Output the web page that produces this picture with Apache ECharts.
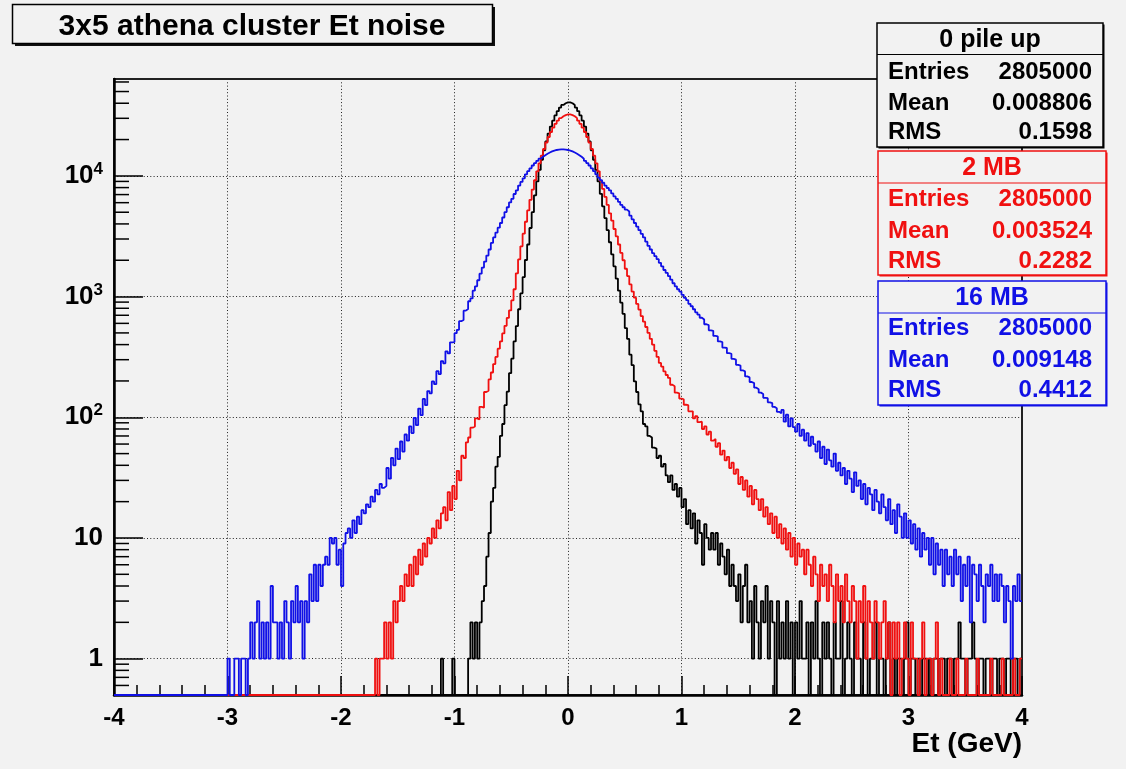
<!DOCTYPE html>
<html>
<head>
<meta charset="utf-8">
<script src="https://cdn.jsdelivr.net/npm/echarts@6.0.0/dist/echarts.min.js"></script>
<style>
  html, body { margin: 0; padding: 0; background: #f2f2f2; }
  #chart { width: 1126px; height: 769px; }
</style>
</head>
<body>
<div id="chart"></div>
<script>
// Histogram binning (GeV)
const X_MIN = -4;
const X_MAX = 4;
const BIN_WIDTH = 0.02;
const Y_MIN = 0.5;
const Y_MAX = 63500;

const X_TICKS = [-4, -3, -2, -1, 0, 1, 2, 3, 4];
const X_TICK_LABELS = ['-4', '-3', '-2', '-1', '0', '1', '2', '3', '4'];
const Y_TICK_EXP = [0, 1, 2, 3, 4];
const Y_TICK_LABELS = ['1', '10', '10^2', '10^3', '10^4'];

const TITLE = '3x5 athena cluster Et noise';
const X_TITLE = 'Et (GeV)';

const HIST_NAMES = ['0 pile up', '2 MB', '16 MB'];
const HIST_ENTRIES = ['2805000', '2805000', '2805000'];
const HIST_MEANS = ['0.008806', '0.003524', '0.009148'];
const HIST_RMS = ['0.1598', '0.2282', '0.4412'];

// 0 pile up: counts per bin, first bin low edge at -1.12
const BLACK_FIRST_EDGE = -1.12;
const BLACK_COUNTS = [
  1,0,0,0,0,1,0,0,0,0,
  0,0,1,2,1,2,1,2,3,4,
  7,11,20,26,39,47,70,88,126,163,
  232,306,425,570,785,1065,1450,2010,2700,3700,
  5000,6900,9000,11200,13600,16300,19300,22400,25600,28700,
  31700,34400,36800,38700,40000,40700,40700,40000,38700,36800,
  34400,31700,28700,25600,22400,19300,16300,13600,11200,9000,
  7100,5600,4470,3550,2820,2240,1780,1410,1120,890,
  720,548,446,330,270,198,162,128,112,88,
  84,70,68,56,55,46,48,39,41,33,
  29,33,25,28,22,26,18,21,13,17,
  12,16,9,14,11,6,13,10,8,11,
  8,11,6,9,7,5,8,4,6,4,
  3,5,2,4,6,2,3,1,4,2,
  1,3,2,4,1,3,2,0,3,1,
  2,1,3,1,2,0,2,1,3,1,
  1,2,0,2,1,3,1,0,2,1,
  2,1,0,2,1,1,3,0,1,2,
  1,0,2,1,1,0,2,1,0,1,
  1,2,0,1,1,0,1,2,0,1,
  0,1,1,0,1,2,0,1,1,0,
  1,0,1,1,0,1,0,1,1,0,
  1,1,0,1,1,0,1,1,2,1,
  1,0,1,1,2,1,0,1,1,0,
  1,1,0,1,1,0,1,1,0,1,
  1,0,1,1,0,1
];

// 2 MB: first bin low edge at -1.70
const RED_FIRST_EDGE = -1.70;
const RED_COUNTS = [
  1,0,1,1,2,1,2,1,3,2,
  3,4,3,5,4,6,4,7,5,8,
  6,9,7,10,9,12,10,14,12,16,
  18,14,24,17,27,21,36,30,48,46,
  62,68,82,84,98,96,122,120,162,166,
  206,235,276,316,370,425,495,572,665,768,
  930,1150,1560,2030,2610,3320,4170,5170,6340,7700,
  9200,10900,12700,14700,16700,18900,21000,23100,25100,27000,
  28700,30100,31200,31900,32300,
  32300,31900,31200,30100,28700,27000,25100,23100,21000,18900,16700,14700,12700,10900,
  9100,7800,6700,5750,4900,4260,3630,3160,2700,2300,
  2000,1700,1480,1260,1100,980,870,780,690,620,
  560,500,447,400,355,316,282,263,240,224,
  212,186,181,160,158,143,141,127,126,112,
  112,98,102,91,92,80,84,72,76,64,
  66,57,61,49,53,44,47,38,42,34,
  37,28,32,25,30,22,27,19,25,21,
  17,21,15,18,13,16,11,15,10,13,
  9,12,8,11,7,10,6,9,7,8,
  5,8,6,4,7,5,3,6,4,5,
  3,6,4,2,5,3,4,2,5,3,
  2,4,3,1,3,2,4,1,3,2,
  1,3,2,1,2,3,1,2,0,2,
  1,2,0,1,2,1,0,2,1,1,
  0,1,2,0,1,1,0,1,2,0,
  1,0,0,0,1,0,0,1,0,0,
  0,1,0,0,0,0,1,0,0,0,
  0,0,1,0,0,0,0,1,0,0,
  0,0,1,0,0,1
];

// 16 MB: first bin low edge at -3.02
const BLUE_FIRST_EDGE = -3.02;
const BLUE_COUNTS = [
  0,1,0,0,1,1,0,1,1,0,
  1,2,1,2,3,1,2,1,2,1,
  4,2,2,1,2,1,3,2,1,3,
  2,4,2,3,1,3,2,5,3,6,
  3,6,4,6,7,6,10,9,10,6,
  8,4,9,11,12,10,14,11,15,13,
  17,16,19,18,22,20,25,23,28,26,
  27,38,31,46,40,55,45,63,52,72,
  64,84,74,99,86,118,104,142,126,165,
  158,198,188,241,228,292,280,352,338,418,
  420,498,530,625,640,765,790,915,965,1120,
  1216,1365,1549,1738,1950,2188,2455,2786,3090,3390,
  3720,4070,4520,5010,5500,6030,6460,7080,7590,8320,
  8910,9550,10300,10940,11560,12190,12770,13340,13880,14390,
  14850,15270,15630,15950,16200,16390,16520,16590,16590,16520,
  16390,16200,15950,15630,15270,14850,14390,13880,13340,12770,
  12190,11560,10940,10300,9680,9230,8770,8320,7940,7590,
  7160,6760,6460,6100,5750,5500,5250,5070,4680,4370,
  4070,3800,3550,3310,3090,2850,2630,2455,2290,2160,
  2040,1905,1780,1660,1570,1480,1380,1290,1216,1150,
  1100,1035,977,933,871,832,785,741,708,668,
  645,590,580,525,520,472,468,425,420,378,
  375,340,336,305,300,272,268,245,240,218,
  214,196,192,176,171,160,156,145,144,133,
  131,122,119,111,108,115,92,105,84,98,
  83,76,88,70,79,64,74,58,69,60,
  52,63,46,57,41,54,44,39,50,36,
  42,33,38,28,36,31,24,35,27,30,
  21,28,19,26,23,17,25,20,16,23,
  18,14,21,13,17,11,19,15,10,16,
  10,14,9,13,8,12,7,11,8,10,
  6,10,5,9,6,8,4,8,5,7,
  4,8,5,7,3,6,4,7,2,6,
  5,3,6,4,2,5,4,6,3,5,
  3,5,4,2,4,3,1,4,3,5,
  3
];

const COLORS = ['#000000', '#f01010', '#1010e6'];
const FONT = '"Liberation Sans", Arial, Helvetica, sans-serif';
const BG = '#f2f2f2';

// Step outline of a histogram: one point per bin low edge, empty bins sit on the floor
function histPoints(counts, firstEdge) {
  const pts = [];
  const lead = Math.round((firstEdge - X_MIN) / BIN_WIDTH);
  for (let i = 0; i < lead; i++) pts.push([X_MIN + i * BIN_WIDTH, Y_MIN]);
  counts.forEach((c, i) => pts.push([firstEdge + i * BIN_WIDTH, c > 0 ? c : Y_MIN]));
  const last = counts[counts.length - 1];
  pts.push([X_MAX, last > 0 ? last : Y_MIN]);
  return pts;
}

function histSeries(name, counts, firstEdge, color, z) {
  return {
    name: name,
    type: 'line',
    step: 'end',
    data: histPoints(counts, firstEdge),
    symbol: 'none',
    showSymbol: false,
    clip: false,
    z: z,
    animation: false,
    emphasis: { disabled: true },
    lineStyle: { color: color, width: 1.8 }
  };
}

// Log-axis minor ticks at 2..9 of each decade
const yMinorTicks = [];
for (let e = -1; e <= 4; e++) {
  for (let m = 2; m <= 9; m++) {
    const v = m * Math.pow(10, e);
    if (v > Y_MIN && v < Y_MAX) yMinorTicks.push([X_MIN, v]);
  }
}

function yLabel(v) {
  const lg = Math.log10(v);
  const e = Math.round(lg);
  if (Math.abs(lg - e) > 1e-6) return '';
  const i = Y_TICK_EXP.indexOf(e);
  if (i < 0) return '';
  const parts = Y_TICK_LABELS[i].split('^');
  return parts.length === 2 ? '{b|' + parts[0] + '}{s|' + parts[1] + '}' : '{b|' + parts[0] + '}';
}

function xLabel(v) {
  const i = X_TICKS.findIndex(t => Math.abs(t - v) < 1e-9);
  return i < 0 ? '' : X_TICK_LABELS[i];
}

// Statistics boxes (top right)
const statBoxes = [
  { x: 877, y: 23, w: 226, h: 124, sep: 31.5, rows: [49, 80, 109.5] },
  { x: 878, y: 151, w: 228, h: 124, sep: 32, rows: [48, 80, 110] },
  { x: 878, y: 281, w: 228, h: 124, sep: 32, rows: [47, 79, 109] }
];

const graphics = [];
const boldFont = size => 'bold ' + size + 'px ' + FONT;

// title box
graphics.push({ type: 'rect', z: 100, shape: { x: 15, y: 7, width: 480, height: 39 }, style: { fill: '#111' } });
graphics.push({ type: 'rect', z: 101, shape: { x: 12.5, y: 4.5, width: 480, height: 39 }, style: { fill: BG, stroke: '#000', lineWidth: 1.5 } });
graphics.push({ type: 'text', z: 102, x: 252, y: 27, style: { text: TITLE, font: boldFont(30), fill: '#000', textAlign: 'center', textVerticalAlign: 'middle' } });

statBoxes.forEach((b, k) => {
  const c = k === 0 ? '#000' : COLORS[k];
  graphics.push({ type: 'rect', z: 100, shape: { x: b.x + 1.5, y: b.y + 1.5, width: b.w, height: b.h }, style: { fill: c } });
  graphics.push({ type: 'rect', z: 101, shape: { x: b.x, y: b.y, width: b.w, height: b.h }, style: { fill: BG, stroke: c, lineWidth: 1.5 } });
  graphics.push({ type: 'line', z: 102, shape: { x1: b.x, y1: b.y + b.sep, x2: b.x + b.w, y2: b.y + b.sep }, style: { stroke: c, lineWidth: 1.2 } });
  graphics.push({ type: 'text', z: 103, x: b.x + b.w / 2, y: b.y + b.sep / 2 + 1, style: { text: HIST_NAMES[k], font: boldFont(25), fill: c, textAlign: 'center', textVerticalAlign: 'middle' } });
  const labels = ['Entries', 'Mean', 'RMS'];
  const values = [HIST_ENTRIES[k], HIST_MEANS[k], HIST_RMS[k]];
  labels.forEach((lab, r) => {
    graphics.push({ type: 'text', z: 103, x: 888, y: b.y + b.rows[r], style: { text: lab, font: boldFont(24), fill: c, textAlign: 'left', textVerticalAlign: 'middle' } });
    graphics.push({ type: 'text', z: 103, x: 1092, y: b.y + b.rows[r], style: { text: values[r], font: boldFont(24), fill: c, textAlign: 'right', textVerticalAlign: 'middle' } });
  });
});

// x axis title
graphics.push({ type: 'text', z: 100, x: 1022, y: 744, style: { text: X_TITLE, font: boldFont(28), fill: '#000', textAlign: 'right', textVerticalAlign: 'middle' } });

const chart = echarts.init(document.getElementById('chart'), null, { renderer: 'canvas' });

chart.setOption({
  backgroundColor: BG,
  animation: false,
  grid: {
    left: 114, right: 104, top: 79, bottom: 74,
    show: true, borderColor: '#222', borderWidth: 2, backgroundColor: 'transparent'
  },
  xAxis: {
    type: 'value',
    min: X_MIN, max: X_MAX, interval: 1,
    axisLine: { onZero: false, lineStyle: { color: '#000', width: 2.5 } },
    axisTick: { inside: true, length: 19, lineStyle: { color: '#000', width: 1.5 } },
    minorTick: { show: true, splitNumber: 5, length: 10, lineStyle: { color: '#000', width: 1.5 } },
    axisLabel: {
      margin: 11, color: '#000', fontFamily: FONT, fontWeight: 'bold', fontSize: 24,
      formatter: xLabel
    },
    splitLine: { show: true, showMinLine: false, showMaxLine: false, lineStyle: { color: '#222', width: 1, type: [1, 2.3] } }
  },
  yAxis: {
    type: 'log', logBase: 10,
    min: Y_MIN, max: Y_MAX,
    axisLine: { onZero: false, lineStyle: { color: '#000', width: 2.5 } },
    axisTick: { inside: true, length: 29, lineStyle: { color: '#000', width: 1.5 } },
    axisLabel: {
      margin: 11, showMinLabel: false, showMaxLabel: false,
      formatter: yLabel,
      rich: {
        b: { fontFamily: FONT, fontWeight: 'bold', fontSize: 26, color: '#000', lineHeight: 30 },
        s: { fontFamily: FONT, fontWeight: 'bold', fontSize: 17, color: '#000', verticalAlign: 'top', lineHeight: 17 }
      }
    },
    splitLine: { show: true, showMinLine: false, showMaxLine: false, lineStyle: { color: '#222', width: 1, type: [1, 2.3] } }
  },
  series: [
    histSeries(HIST_NAMES[0], BLACK_COUNTS, BLACK_FIRST_EDGE, COLORS[0], 3),
    histSeries(HIST_NAMES[1], RED_COUNTS, RED_FIRST_EDGE, COLORS[1], 4),
    histSeries(HIST_NAMES[2], BLUE_COUNTS, BLUE_FIRST_EDGE, COLORS[2], 5),
    {
      type: 'custom',
      silent: true,
      z: 6,
      data: yMinorTicks,
      renderItem: function (params, api) {
        const p = api.coord([api.value(0), api.value(1)]);
        return {
          type: 'line',
          shape: { x1: p[0], y1: p[1], x2: p[0] + 15, y2: p[1] },
          style: { stroke: '#000', lineWidth: 1.5 }
        };
      }
    }
  ],
  graphic: graphics
});
</script>
</body>
</html>
